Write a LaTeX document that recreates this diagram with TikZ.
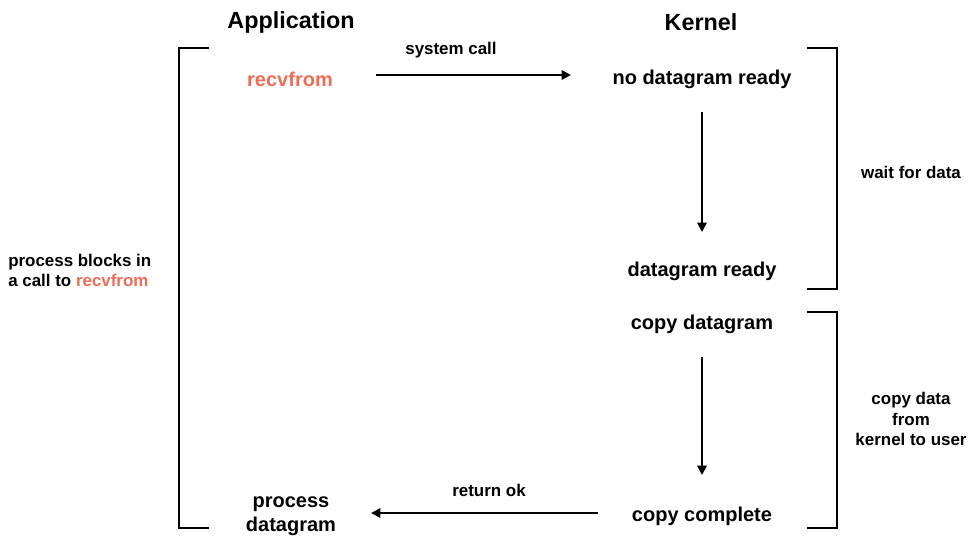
\documentclass[tikz,border=0pt]{standalone}
\usepackage{fontspec}
\setmainfont{Liberation Sans}
\usetikzlibrary{arrows.meta}
\definecolor{coral}{RGB}{236,108,88}
\begin{document}
\begin{tikzpicture}[x=0.75pt,y=-0.75pt,
  lbl/.style={font=\bfseries\fontsize{15}{18}\selectfont, inner sep=0pt, align=center},
  small/.style={font=\bfseries\fontsize{12.7}{15}\selectfont, inner sep=0pt, align=center},
  head/.style={font=\bfseries\fontsize{17.5}{20}\selectfont, inner sep=0pt},
  conn/.style={line width=1.5pt, -{Triangle[length=7pt,width=7pt]}},
  brk/.style={line width=1.5pt}]
\useasboundingbox (0,0) rectangle (973,542);
\node[head] (app) at (291,22) {Application};
\node[head] (ker) at (701,22) {Kernel};
\node[lbl, text=coral] (recv) at (290,79) {recvfrom};
\node[lbl] (nodg) at (702,79) {no datagram ready};
\node[small] (sys) at (451,50) {system call};
\node[lbl] (dgr) at (702,271) {datagram ready};
\node[lbl] (cpd) at (702,324) {copy datagram};
\node[lbl] (cpc) at (702,516) {copy complete};
\node[small] (rok) at (489,490) {return ok};
\node[lbl, font=\bfseries\fontsize{15}{18}\selectfont] (proc) at (291,516) {process\\datagram};
\node[small, font=\bfseries\fontsize{12.7}{13}\selectfont] (wait) at (911,172) {wait for data};
\node[small, font=\bfseries\fontsize{12.7}{15.4}\selectfont] (cpy) at (911,419) {copy data\\from\\kernel to user};
\node[small, font=\bfseries\fontsize{12.7}{15}\selectfont, align=left, anchor=west] (blk) at (8,270) {process blocks in\\a call to \textcolor{coral}{recvfrom}};
% connectors
\coordinate (a1s) at (376,75); \coordinate (a1e) at (571,75);
\draw[conn] (a1s) -- (a1e);
\coordinate (a2s) at (702,112); \coordinate (a2e) at (702,232);
\draw[conn] (a2s) -- (a2e);
\coordinate (a3s) at (702,357); \coordinate (a3e) at (702,475);
\draw[conn] (a3s) -- (a3e);
\coordinate (a4s) at (598,513); \coordinate (a4e) at (371,513);
\draw[conn] (a4s) -- (a4e);
% brackets
\draw[brk] (209,48) -- (179,48) -- (179,528) -- (209,528);
\draw[brk] (807,48) -- (837,48) -- (837,289) -- (807,289);
\draw[brk] (807,312) -- (837,312) -- (837,528) -- (807,528);
\end{tikzpicture}
\end{document}
